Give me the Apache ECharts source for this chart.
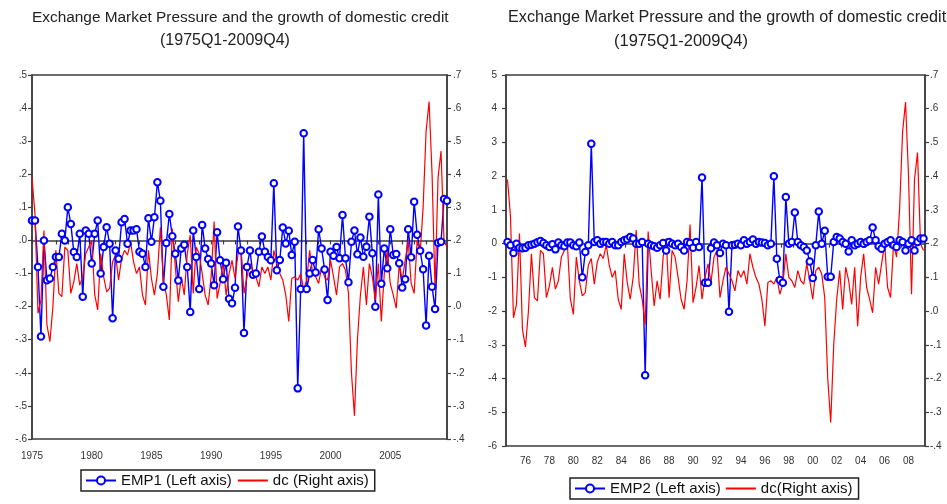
<!DOCTYPE html>
<html><head><meta charset="utf-8">
<script src="https://cdn.jsdelivr.net/npm/echarts@6/dist/echarts.min.js"></script>
<style>html,body{margin:0;padding:0;background:#fff}#c{width:947px;height:504px}</style>
</head><body><div id="c"></div>
<script>
// Quarterly categories 1975Q1 .. 2009Q4
const quarters = [];
for (let y = 1975; y <= 2009; y++) for (let q = 1; q <= 4; q++) quarters.push(y + 'Q' + q);

// EMP1 (left panel, left axis)
const emp1 = [
  0.06, 0.06, -0.08, -0.29, 0.00, -0.12, -0.115, -0.08, -0.05, -0.05,
  0.02, 0.00, 0.10, 0.05, -0.035, -0.05, 0.02, -0.17, 0.03, 0.02,
  -0.07, 0.02, 0.06, -0.10, -0.02, 0.04, -0.01, -0.235, -0.03, -0.055,
  0.055, 0.065, -0.01, 0.03, 0.03, 0.034, -0.034, -0.04, -0.08, 0.067,
  -0.004, 0.07, 0.176, 0.12, -0.14, -0.008, 0.08, 0.013, -0.04, -0.121,
  -0.024, -0.013, -0.08, -0.216, 0.03, -0.05, -0.147, 0.047, -0.024, -0.056,
  -0.07, -0.135, 0.025, -0.06, -0.117, -0.067, -0.176, -0.19, -0.143, 0.042,
  -0.03, -0.28, -0.08, -0.03, -0.104, -0.10, -0.034, 0.012, -0.034, -0.05,
  -0.06, 0.173, -0.09, -0.059, 0.039, -0.009, 0.029, -0.044, -0.004, -0.447,
  -0.147, 0.324, -0.147, -0.10, -0.059, -0.097, 0.034, -0.024, -0.088, -0.18,
  -0.034, -0.046, -0.02, -0.054, 0.077, -0.054, -0.126, -0.004, 0.03, -0.042,
  0.009, -0.049, -0.019, 0.072, -0.039, -0.20, 0.139, -0.131, -0.024, -0.084,
  0.034, -0.044, -0.041, -0.069, -0.142, -0.117, 0.034, -0.051, 0.117, 0.017,
  -0.031, -0.087, -0.257, -0.046, -0.14, -0.207, -0.007, -0.004, 0.125, 0.12
];

// EMP2 (right panel, left axis)
const emp2 = [
  0.05, -0.05, -0.28, 0.00, -0.12, -0.14, -0.12, -0.05, -0.03, 0.00,
  0.04, 0.08, 0.02, -0.05, -0.10, -0.02, -0.17, 0.03, -0.05, -0.08,
  0.03, 0.03, -0.05, -0.08, 0.03, -1.00, -0.25, -0.05, 2.96, 0.05,
  0.10, 0.00, 0.05, 0.05, 0.00, 0.05, -0.05, -0.05, 0.05, 0.10,
  0.13, 0.20, 0.15, 0.00, 0.00, 0.05, -3.90, 0.00, -0.05, -0.08,
  -0.12, -0.05, 0.02, -0.20, 0.05, 0.00, -0.05, 0.00, -0.10, -0.20,
  0.05, 0.02, -0.12, 0.05, -0.10, 1.96, -1.16, -1.16, -0.14, 0.03,
  -0.05, -0.28, 0.00, -0.05, -2.02, -0.05, -0.03, 0.00, -0.05, 0.10,
  0.00, 0.05, 0.12, 0.00, 0.05, 0.03, 0.02, -0.05, 0.00, 2.00,
  -0.45, -1.08, -1.16, 1.38, 0.00, 0.05, 0.92, 0.05, -0.05, -0.10,
  -0.20, -0.53, -1.02, -0.05, 0.95, 0.00, 0.38, -0.98, -0.98, 0.05,
  0.20, 0.15, 0.05, 0.00, -0.23, 0.10, -0.05, 0.00, 0.05, 0.00,
  0.05, 0.10, 0.48, 0.10, -0.08, -0.15, 0.00, 0.05, 0.10, -0.05,
  -0.10, 0.10, 0.05, -0.20, 0.00, 0.10, -0.20, 0.05, 0.15, 0.15
];

// dc (right axis, both panels)
const dc = [
  0.39, 0.28, -0.02, 0.02, 0.23, -0.055, -0.106, 0.00, 0.17, 0.04,
  0.03, 0.18, 0.17, 0.04, 0.075, 0.13, 0.065, 0.09, 0.16, 0.18,
  0.20, 0.036, -0.01, 0.16, 0.09, 0.045, 0.055, 0.136, 0.156, 0.08,
  0.146, 0.17, 0.156, 0.196, 0.136, 0.10, 0.12, 0.035, 0.005, 0.17,
  0.085, 0.035, 0.10, 0.24, 0.08, 0.035, -0.04, 0.236, 0.12, 0.015,
  0.09, 0.035, 0.16, 0.216, 0.04, 0.18, 0.16, 0.10, 0.035, 0.005,
  0.09, 0.257, 0.025, 0.07, 0.135, 0.035, 0.10, 0.14, 0.085, 0.16,
  0.18, 0.04, 0.09, 0.13, 0.11, 0.09, 0.06, 0.12, 0.10, 0.12,
  0.08, 0.17, 0.13, 0.10, 0.08, 0.035, -0.045, 0.085, 0.09, 0.08,
  0.10, 0.05, 0.08, 0.17, 0.10, 0.09, 0.07, 0.12, 0.09, 0.08,
  0.14, 0.09, 0.035, 0.12, 0.13, 0.11, 0.04, -0.20, -0.33, -0.10,
  0.035, 0.12, 0.005, 0.13, 0.09, 0.02, 0.13, -0.045, 0.10, 0.17,
  0.07, 0.035, -0.005, 0.13, 0.08, 0.14, 0.20, 0.07, 0.04, 0.20,
  0.16, 0.30, 0.53, 0.62, 0.40, 0.05, 0.39, 0.47, 0.20, 0.18
];

const titleText = 'Exchange Market Pressure and the growth of domestic credit';
const subTitleText = '(1975Q1-2009Q4)';
const legendNames = ['EMP1 (Left axis)', 'dc (Right axis)', 'EMP2 (Left axis)', 'dc(Right axis)'];

const FONT = '"Liberation Sans", Arial, sans-serif';
const FRAME = '#3c3c3c';
const BLUE = '#0000ff';
const RED = '#ff0000';

function dotFmt(v) {
  let s = (Math.round(v * 10) / 10).toFixed(1);
  if (s === '-0.0') s = '0.0';
  return s.replace('0.', '.');
}

const axisLineCfg = { show: true, lineStyle: { color: FRAME, width: 1.5 } };
const labelCfg = { fontSize: 10, color: '#333', fontFamily: FONT };

function yAx(grid, pos, min, max, interval, fmt, margin) {
  return {
    gridIndex: grid, type: 'value', position: pos, min: min, max: max, interval: interval,
    axisLine: axisLineCfg,
    axisTick: { show: true, length: 4, lineStyle: { color: FRAME, width: 1.2 } },
    axisLabel: Object.assign({ formatter: fmt, margin: margin }, labelCfg),
    splitLine: { show: false }
  };
}

const titleStyle = (size) => ({ fontSize: size, fontWeight: 'normal', color: '#222', fontFamily: FONT });
const noSymbolLegend = { opacity: 0 };

const option = {
  animation: false,
  backgroundColor: '#fff',
  title: [
    { text: titleText, left: 32, top: 10, padding: 0, textStyle: titleStyle(15.4) },
    { text: subTitleText, left: 160, top: 33, padding: 0, textStyle: titleStyle(16) },
    { text: titleText, left: 508, top: 10, padding: 0, textStyle: titleStyle(16.2) },
    { text: subTitleText, left: 614, top: 33, padding: 0, textStyle: titleStyle(16.5) }
  ],
  grid: [
    { left: 32, top: 75, width: 415, height: 364, show: true, borderColor: FRAME, borderWidth: 1.5, backgroundColor: '#fff' },
    { left: 506, top: 75, width: 419, height: 371, show: true, borderColor: FRAME, borderWidth: 1.5, backgroundColor: '#fff' }
  ],
  legend: [
    {
      data: [legendNames[0], { name: legendNames[1], itemStyle: noSymbolLegend }], left: 81, top: 470,
      borderColor: '#222', borderWidth: 1.5, borderRadius: 0, padding: [3, 6, 3, 4],
      itemWidth: 30, itemHeight: 10, itemGap: 5,
      textStyle: { fontSize: 15, color: '#111', fontFamily: FONT }
    },
    {
      data: [legendNames[2], { name: legendNames[3], itemStyle: noSymbolLegend }], left: 570, top: 478,
      borderColor: '#222', borderWidth: 1.5, borderRadius: 0, padding: [3, 6, 3, 4],
      itemWidth: 30, itemHeight: 10, itemGap: 4,
      textStyle: { fontSize: 15, color: '#111', fontFamily: FONT }
    }
  ],
  xAxis: [
    {
      gridIndex: 0, type: 'category', data: quarters, boundaryGap: false,
      axisLine: axisLineCfg,
      axisTick: { show: true, length: 4, interval: (i) => i % 4 === 0, lineStyle: { color: FRAME, width: 1.2 } },
      axisLabel: Object.assign({ interval: (i) => i % 20 === 0, formatter: (v) => v.slice(0, 4), margin: 12 }, labelCfg),
      splitLine: { show: false }
    },
    {
      gridIndex: 1, type: 'category', data: quarters, boundaryGap: true,
      axisLine: axisLineCfg,
      axisTick: { show: true, length: 4, interval: (i) => i % 4 === 0, lineStyle: { color: FRAME, width: 1.2 } },
      axisLabel: Object.assign({ interval: (i) => i % 8 === 6, formatter: (v) => v.slice(2, 4), margin: 10 }, labelCfg),
      splitLine: { show: false }
    }
  ],
  yAxis: [
    yAx(0, 'left', -0.6, 0.5, 0.1, dotFmt, 5),
    yAx(0, 'right', -0.4, 0.7, 0.1, dotFmt, 6),
    yAx(1, 'left', -6, 5, 1, (v) => String(Math.round(v)), 9),
    yAx(1, 'right', -0.4, 0.7, 0.1, dotFmt, 5)
  ],
  series: [
    {
      type: 'line', name: legendNames[0], xAxisIndex: 0, yAxisIndex: 0, data: emp1,
      symbol: 'emptyCircle', symbolSize: 6.5, showAllSymbol: true,
      lineStyle: { color: BLUE, width: 1.4 }, itemStyle: { color: BLUE, borderWidth: 1.1 }
    },
    {
      type: 'line', name: legendNames[1], xAxisIndex: 0, yAxisIndex: 1, data: dc,
      symbol: 'none', lineStyle: { color: RED, width: 1.2 }, itemStyle: { color: RED }
    },
    {
      type: 'line', name: legendNames[2], xAxisIndex: 1, yAxisIndex: 2, data: emp2,
      symbol: 'emptyCircle', symbolSize: 6.5, showAllSymbol: true,
      lineStyle: { color: BLUE, width: 1.4 }, itemStyle: { color: BLUE, borderWidth: 1.1 }
    },
    {
      type: 'line', name: legendNames[3], xAxisIndex: 1, yAxisIndex: 3, data: dc,
      symbol: 'none', lineStyle: { color: RED, width: 1.2 }, itemStyle: { color: RED }
    }
  ]
};

const chart = echarts.init(document.getElementById('c'), null, { renderer: 'canvas' });
chart.setOption(option);
</script>
</body></html>
